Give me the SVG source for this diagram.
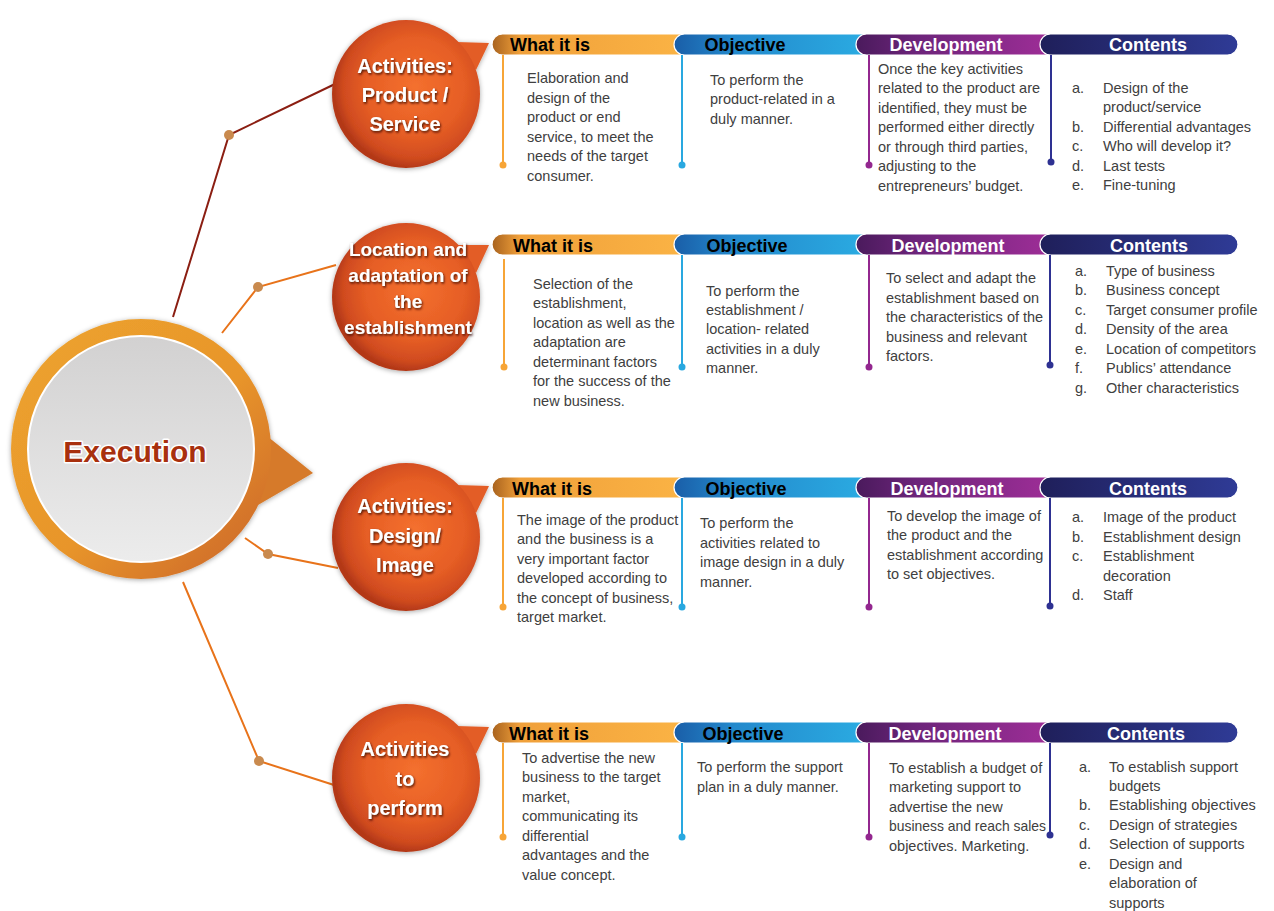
<svg xmlns="http://www.w3.org/2000/svg" width="1274" height="911" viewBox="0 0 1274 911">
<defs>
<radialGradient id="bub" cx="0.56" cy="0.45" r="0.55">
<stop offset="0" stop-color="#f4702e"/>
<stop offset="0.6" stop-color="#e65e25"/>
<stop offset="0.88" stop-color="#d04b1f"/>
<stop offset="1" stop-color="#b33818"/>
</radialGradient>
<linearGradient id="ring" x1="0" y1="0" x2="1" y2="1">
<stop offset="0" stop-color="#eda42e"/>
<stop offset="0.55" stop-color="#e8952b"/>
<stop offset="1" stop-color="#c9622a"/>
</linearGradient>
<linearGradient id="grey" x1="0" y1="0" x2="0" y2="1">
<stop offset="0" stop-color="#d2d1d1"/>
<stop offset="1" stop-color="#ececec"/>
</linearGradient>
<linearGradient id="gWhat" x1="0" y1="0" x2="1" y2="0">
<stop offset="0" stop-color="#a8621e"/>
<stop offset="0.14" stop-color="#f0a03a"/>
<stop offset="1" stop-color="#fbb445"/>
</linearGradient>
<linearGradient id="gObj" x1="0" y1="0" x2="1" y2="0">
<stop offset="0" stop-color="#1a5ea8"/>
<stop offset="0.3" stop-color="#2389cc"/>
<stop offset="1" stop-color="#2badE3"/>
</linearGradient>
<linearGradient id="gDev" x1="0" y1="0" x2="1" y2="0">
<stop offset="0" stop-color="#4a1a5c"/>
<stop offset="0.3" stop-color="#6c247a"/>
<stop offset="1" stop-color="#a02e98"/>
</linearGradient>
<linearGradient id="gCon" x1="0" y1="0" x2="1" y2="0">
<stop offset="0" stop-color="#1f1f5a"/>
<stop offset="1" stop-color="#2f3b96"/>
</linearGradient>
<filter id="shadow" x="-20%" y="-20%" width="140%" height="140%">
<feDropShadow dx="0" dy="1" stdDeviation="2.5" flood-color="#000" flood-opacity="0.35"/>
</filter>
<filter id="tshadow" x="-10%" y="-20%" width="130%" height="150%">
<feDropShadow dx="1" dy="1.5" stdDeviation="0.8" flood-color="#3a0c00" flood-opacity="0.9"/>
</filter>
<style>
.btxt{font-family:"Liberation Sans",Arial,sans-serif;font-weight:bold;font-size:20px;fill:#fff;text-anchor:middle}
.htxt{font-family:"Liberation Sans",Arial,sans-serif;font-weight:bold;font-size:18px}
.dark{fill:#000}
.light{fill:#fff}
.body{font-family:"Liberation Sans",Arial,sans-serif;font-size:14.5px;fill:#404040}
.hbar{stroke:#fff;stroke-width:1.2}
.conn1{stroke:#8b1e12;stroke-width:2;fill:none}
.conn{stroke:#e8731a;stroke-width:2;fill:none}
.jdot{fill:#c98a4e}
.sO{stroke:#f7a537;stroke-width:2}
.sB{stroke:#29a8e0;stroke-width:2}
.sP{stroke:#93278f;stroke-width:2}
.sN{stroke:#2e3192;stroke-width:2}
.dO{fill:#f7a537}.dB{fill:#29a8e0}.dP{fill:#93278f}.dN{fill:#2e3192}
</style>
</defs>
<rect width="1274" height="911" fill="#fff"/>

<g id="connectors">
<polyline class="conn1" points="173,317 229,135 335,84"/>
<polyline class="conn" points="222,333 258,287 336,265"/>
<polyline class="conn" points="245,538 268,554 338,568"/>
<polyline class="conn" points="183,582 259,761 334,785"/>
<circle class="jdot" cx="229" cy="135" r="5"/>
<circle class="jdot" cx="258" cy="287" r="5"/>
<circle class="jdot" cx="268" cy="554" r="5"/>
<circle class="jdot" cx="259" cy="761" r="5"/>
</g>

<g id="execution">
<g filter="url(#shadow)">
<polygon points="262,432 313,473 258,505" fill="#d67a2a"/>
<circle cx="141" cy="449" r="130" fill="url(#ring)"/>
</g>
<circle cx="141" cy="449" r="113" fill="url(#grey)" stroke="#fff" stroke-width="2"/>
<text x="135" y="462" text-anchor="middle" font-family="Liberation Sans, Arial, sans-serif" font-weight="bold" font-size="30" fill="#a8300e" stroke="#fff" stroke-width="3" paint-order="stroke" stroke-linejoin="round">Execution</text>
</g>

<g id="bubble-product">
<g filter="url(#shadow)">
<polygon points="456,42 489,43 476,70" fill="#e35d26"/>
<circle cx="406" cy="94" r="74" fill="url(#bub)"/>
</g>
<text class="btxt" filter="url(#tshadow)"><tspan x="405" y="73">Activities:</tspan><tspan x="405" y="102">Product /</tspan><tspan x="405" y="131">Service</tspan></text>
</g>

<g id="bubble-location">
<g filter="url(#shadow)">
<polygon points="456,245 489,245 476,273" fill="#e35d26"/>
<circle cx="406" cy="297" r="74" fill="url(#bub)"/>
</g>
<text class="btxt" style="font-size:19px" filter="url(#tshadow)"><tspan x="408" y="256">Location and</tspan><tspan x="408" y="282">adaptation of</tspan><tspan x="408" y="308">the</tspan><tspan x="408" y="334">establishment</tspan></text>
</g>

<g id="bubble-design">
<g filter="url(#shadow)">
<polygon points="456,485 489,486 476,513" fill="#e35d26"/>
<circle cx="406" cy="537" r="74" fill="url(#bub)"/>
</g>
<text class="btxt" filter="url(#tshadow)"><tspan x="405" y="513">Activities:</tspan><tspan x="405" y="543">Design/</tspan><tspan x="405" y="572">Image</tspan></text>
</g>

<g id="bubble-perform">
<g filter="url(#shadow)">
<polygon points="456,726 489,727 476,754" fill="#e35d26"/>
<circle cx="406" cy="778" r="74" fill="url(#bub)"/>
</g>
<text class="btxt" filter="url(#tshadow)"><tspan x="405" y="756">Activities</tspan><tspan x="405" y="786">to</tspan><tspan x="405" y="815">perform</tspan></text>
</g>

<!-- Row 1 -->
<g id="row-product">
<rect class="hbar" x="492" y="34" width="200" height="21" rx="10.5" fill="url(#gWhat)"/>
<rect class="hbar" x="674" y="34" width="200" height="21" rx="10.5" fill="url(#gObj)"/>
<rect class="hbar" x="856" y="34" width="200" height="21" rx="10.5" fill="url(#gDev)"/>
<rect class="hbar" x="1040" y="34" width="198" height="21" rx="10.5" fill="url(#gCon)"/>
<text class="htxt dark" x="510" y="51">What it is</text>
<text class="htxt dark" x="745" y="51" text-anchor="middle">Objective</text>
<text class="htxt light" x="946" y="51" text-anchor="middle">Development</text>
<text class="htxt light" x="1148" y="51" text-anchor="middle">Contents</text>
<line class="sO" x1="503" y1="55" x2="503" y2="165"/><circle class="dO" cx="503" cy="165" r="3.5"/>
<line class="sB" x1="682" y1="55" x2="682" y2="165"/><circle class="dB" cx="682" cy="165" r="3.5"/>
<line class="sP" x1="869" y1="55" x2="869" y2="165"/><circle class="dP" cx="869" cy="165" r="3.5"/>
<line class="sN" x1="1051" y1="55" x2="1051" y2="162"/><circle class="dN" cx="1051" cy="162" r="3.5"/>
<text class="body"><tspan x="527" y="83">Elaboration and</tspan><tspan x="527" y="103">design of the</tspan><tspan x="527" y="122">product or end</tspan><tspan x="527" y="142">service, to meet the</tspan><tspan x="527" y="161">needs of the target</tspan><tspan x="527" y="181">consumer.</tspan></text>
<text class="body"><tspan x="710" y="85">To perform the</tspan><tspan x="710" y="104">product-related in a</tspan><tspan x="710" y="124">duly manner.</tspan></text>
<text class="body"><tspan x="878" y="74">Once the key activities</tspan><tspan x="878" y="93">related to the product are</tspan><tspan x="878" y="113">identified, they must be</tspan><tspan x="878" y="132">performed either directly</tspan><tspan x="878" y="152">or through third parties,</tspan><tspan x="878" y="171">adjusting to the</tspan><tspan x="878" y="191">entrepreneurs’ budget.</tspan></text>
<text class="body"><tspan x="1072" y="93">a.</tspan><tspan x="1103" y="93">Design of the</tspan><tspan x="1103" y="112">product/service</tspan><tspan x="1072" y="132">b.</tspan><tspan x="1103" y="132">Differential advantages</tspan><tspan x="1072" y="151">c.</tspan><tspan x="1103" y="151">Who will develop it?</tspan><tspan x="1072" y="171">d.</tspan><tspan x="1103" y="171">Last tests</tspan><tspan x="1072" y="190">e.</tspan><tspan x="1103" y="190">Fine-tuning</tspan></text>
</g>

<!-- Row 2 -->
<g id="row-location">
<rect class="hbar" x="492" y="234" width="200" height="21" rx="10.5" fill="url(#gWhat)"/>
<rect class="hbar" x="674" y="234" width="200" height="21" rx="10.5" fill="url(#gObj)"/>
<rect class="hbar" x="856" y="234" width="200" height="21" rx="10.5" fill="url(#gDev)"/>
<rect class="hbar" x="1040" y="234" width="198" height="21" rx="10.5" fill="url(#gCon)"/>
<text class="htxt dark" x="513" y="252">What it is</text>
<text class="htxt dark" x="747" y="252" text-anchor="middle">Objective</text>
<text class="htxt light" x="948" y="252" text-anchor="middle">Development</text>
<text class="htxt light" x="1149" y="252" text-anchor="middle">Contents</text>
<line class="sO" x1="504" y1="259" x2="504" y2="367"/><circle class="dO" cx="504" cy="367" r="3.5"/>
<line class="sB" x1="682" y1="255" x2="682" y2="367"/><circle class="dB" cx="682" cy="367" r="3.5"/>
<line class="sP" x1="869" y1="255" x2="869" y2="367"/><circle class="dP" cx="869" cy="367" r="3.5"/>
<line class="sN" x1="1050" y1="255" x2="1050" y2="365"/><circle class="dN" cx="1050" cy="365" r="3.5"/>
<text class="body"><tspan x="533" y="289">Selection of the</tspan><tspan x="533" y="308">establishment,</tspan><tspan x="533" y="328">location as well as the</tspan><tspan x="533" y="347">adaptation are</tspan><tspan x="533" y="367">determinant factors</tspan><tspan x="533" y="386">for the success of the</tspan><tspan x="533" y="406">new business.</tspan></text>
<text class="body"><tspan x="706" y="296">To perform the</tspan><tspan x="706" y="315">establishment /</tspan><tspan x="706" y="334">location- related</tspan><tspan x="706" y="354">activities in a duly</tspan><tspan x="706" y="373">manner.</tspan></text>
<text class="body"><tspan x="886" y="283">To select and adapt the</tspan><tspan x="886" y="303">establishment based on</tspan><tspan x="886" y="322">the characteristics of the</tspan><tspan x="886" y="342">business and relevant</tspan><tspan x="886" y="361">factors.</tspan></text>
<text class="body"><tspan x="1075" y="276">a.</tspan><tspan x="1106" y="276">Type of business</tspan><tspan x="1075" y="295">b.</tspan><tspan x="1106" y="295">Business concept</tspan><tspan x="1075" y="315">c.</tspan><tspan x="1106" y="315">Target consumer profile</tspan><tspan x="1075" y="334">d.</tspan><tspan x="1106" y="334">Density of the area</tspan><tspan x="1075" y="354">e.</tspan><tspan x="1106" y="354">Location of competitors</tspan><tspan x="1075" y="373">f.</tspan><tspan x="1106" y="373">Publics’ attendance</tspan><tspan x="1075" y="393">g.</tspan><tspan x="1106" y="393">Other characteristics</tspan></text>
</g>

<!-- Row 3 -->
<g id="row-design">
<rect class="hbar" x="492" y="477" width="200" height="21" rx="10.5" fill="url(#gWhat)"/>
<rect class="hbar" x="674" y="477" width="200" height="21" rx="10.5" fill="url(#gObj)"/>
<rect class="hbar" x="856" y="477" width="200" height="21" rx="10.5" fill="url(#gDev)"/>
<rect class="hbar" x="1040" y="477" width="198" height="21" rx="10.5" fill="url(#gCon)"/>
<text class="htxt dark" x="512" y="495">What it is</text>
<text class="htxt dark" x="746" y="495" text-anchor="middle">Objective</text>
<text class="htxt light" x="947" y="495" text-anchor="middle">Development</text>
<text class="htxt light" x="1148" y="495" text-anchor="middle">Contents</text>
<line class="sO" x1="503" y1="498" x2="503" y2="607"/><circle class="dO" cx="503" cy="607" r="3.5"/>
<line class="sB" x1="682" y1="498" x2="682" y2="607"/><circle class="dB" cx="682" cy="607" r="3.5"/>
<line class="sP" x1="869" y1="498" x2="869" y2="607"/><circle class="dP" cx="869" cy="607" r="3.5"/>
<line class="sN" x1="1050" y1="498" x2="1050" y2="606"/><circle class="dN" cx="1050" cy="606" r="3.5"/>
<text class="body"><tspan x="517" y="525">The image of the product</tspan><tspan x="517" y="544">and the business is a</tspan><tspan x="517" y="564">very important factor</tspan><tspan x="517" y="583">developed according to</tspan><tspan x="517" y="603">the concept of business,</tspan><tspan x="517" y="622">target market.</tspan></text>
<text class="body"><tspan x="700" y="528">To perform the</tspan><tspan x="700" y="548">activities related to</tspan><tspan x="700" y="567">image design in a duly</tspan><tspan x="700" y="587">manner.</tspan></text>
<text class="body"><tspan x="887" y="521">To develop the image of</tspan><tspan x="887" y="540">the product and the</tspan><tspan x="887" y="560">establishment according</tspan><tspan x="887" y="579">to set objectives.</tspan></text>
<text class="body"><tspan x="1072" y="522">a.</tspan><tspan x="1103" y="522">Image of the product</tspan><tspan x="1072" y="542">b.</tspan><tspan x="1103" y="542">Establishment design</tspan><tspan x="1072" y="561">c.</tspan><tspan x="1103" y="561">Establishment</tspan><tspan x="1103" y="581">decoration</tspan><tspan x="1072" y="600">d.</tspan><tspan x="1103" y="600">Staff</tspan></text>
</g>

<!-- Row 4 -->
<g id="row-perform">
<rect class="hbar" x="492" y="722" width="200" height="21" rx="10.5" fill="url(#gWhat)"/>
<rect class="hbar" x="674" y="722" width="200" height="21" rx="10.5" fill="url(#gObj)"/>
<rect class="hbar" x="856" y="722" width="200" height="21" rx="10.5" fill="url(#gDev)"/>
<rect class="hbar" x="1040" y="722" width="198" height="21" rx="10.5" fill="url(#gCon)"/>
<text class="htxt dark" x="509" y="740">What it is</text>
<text class="htxt dark" x="743" y="740" text-anchor="middle">Objective</text>
<text class="htxt light" x="945" y="740" text-anchor="middle">Development</text>
<text class="htxt light" x="1146" y="740" text-anchor="middle">Contents</text>
<line class="sO" x1="503" y1="743" x2="503" y2="837"/><circle class="dO" cx="503" cy="837" r="3.5"/>
<line class="sB" x1="682" y1="743" x2="682" y2="837"/><circle class="dB" cx="682" cy="837" r="3.5"/>
<line class="sP" x1="869" y1="743" x2="869" y2="837"/><circle class="dP" cx="869" cy="837" r="3.5"/>
<line class="sN" x1="1050" y1="743" x2="1050" y2="835"/><circle class="dN" cx="1050" cy="835" r="3.5"/>
<text class="body"><tspan x="522" y="763">To advertise the new</tspan><tspan x="522" y="782">business to the target</tspan><tspan x="522" y="802">market,</tspan><tspan x="522" y="821">communicating its</tspan><tspan x="522" y="841">differential</tspan><tspan x="522" y="860">advantages and the</tspan><tspan x="522" y="880">value concept.</tspan></text>
<text class="body"><tspan x="697" y="772">To perform the support</tspan><tspan x="697" y="792">plan in a duly manner.</tspan></text>
<text class="body"><tspan x="889" y="773">To establish a budget of</tspan><tspan x="889" y="792">marketing support to</tspan><tspan x="889" y="812">advertise the new</tspan><tspan x="889" y="831" textLength="157" lengthAdjust="spacingAndGlyphs">business and reach sales</tspan><tspan x="889" y="851">objectives. Marketing.</tspan></text>
<text class="body"><tspan x="1079" y="772">a.</tspan><tspan x="1109" y="772">To establish support</tspan><tspan x="1109" y="791">budgets</tspan><tspan x="1079" y="810">b.</tspan><tspan x="1109" y="810">Establishing objectives</tspan><tspan x="1079" y="830">c.</tspan><tspan x="1109" y="830">Design of strategies</tspan><tspan x="1079" y="849">d.</tspan><tspan x="1109" y="849">Selection of supports</tspan><tspan x="1079" y="869">e.</tspan><tspan x="1109" y="869">Design and</tspan><tspan x="1109" y="888">elaboration of</tspan><tspan x="1109" y="908">supports</tspan></text>
</g>
</svg>
